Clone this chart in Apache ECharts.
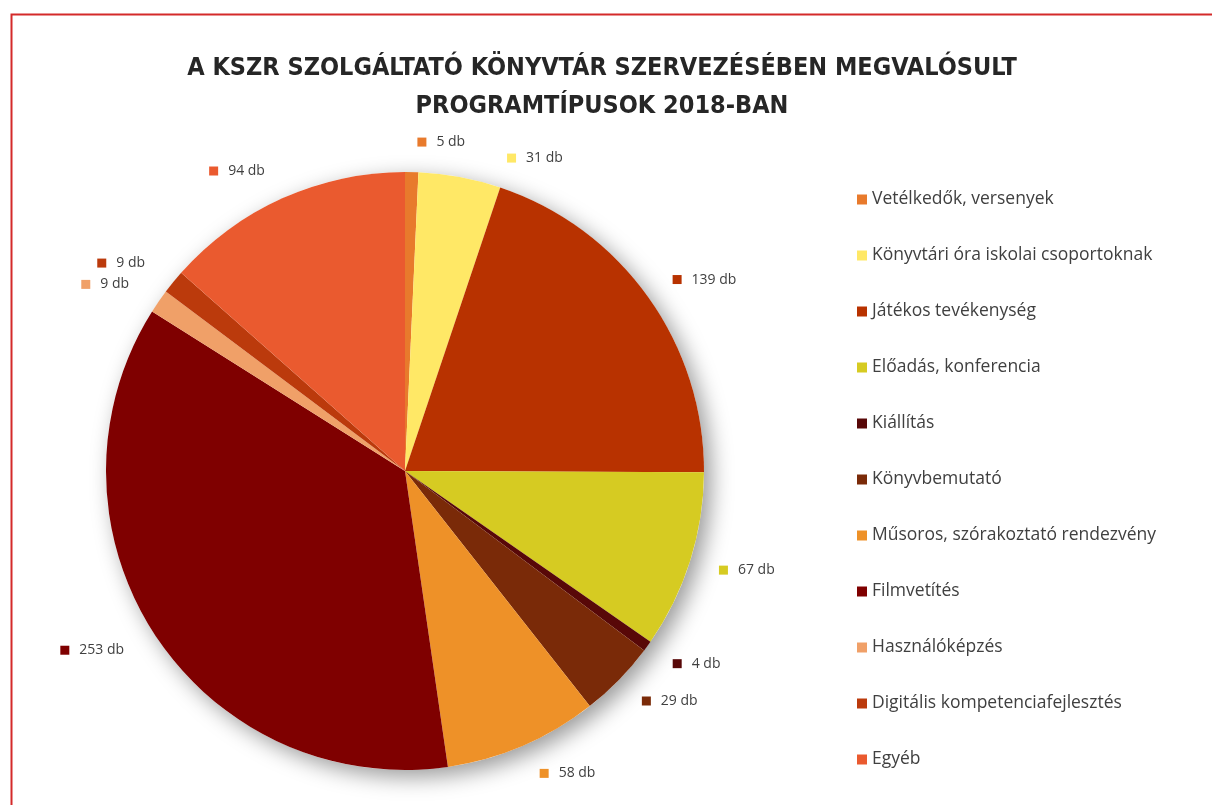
<!DOCTYPE html>
<html>
<head>
<meta charset="utf-8">
<script src="https://cdn.jsdelivr.net/npm/echarts@6/dist/echarts.min.js"></script>
<style>
  html, body { margin: 0; padding: 0; background: #fff; }
  #chart { width: 1212px; height: 805px; }
</style>
</head>
<body>
<div id="chart"></div>
<script>
// programtípusok és darabszámok
const categories = [
    'Vetélkedők, versenyek',
    'Könyvtári óra iskolai csoportoknak',
    'Játékos tevékenység',
    'Előadás, konferencia',
    'Kiállítás',
    'Könyvbemutató',
    'Műsoros, szórakoztató rendezvény',
    'Filmvetítés',
    'Használóképzés',
    'Digitális kompetenciafejlesztés',
    'Egyéb'
];
const counts = [5, 31, 139, 67, 4, 29, 58, 253, 9, 9, 94];
const colors = ['#e87a2c', '#ffe866', '#b83200', '#d6cb22', '#580808', '#7a2a08',
                '#ee9128', '#7f0000', '#f0a068', '#bb3a0c', '#ea5a2f'];

const total = counts.reduce((a, b) => a + b, 0);
const font = "'Open Sans', 'DejaVu Sans', sans-serif";

const pieData = categories.map((name, i) => ({
    name: name,
    value: counts[i],
    itemStyle: { color: colors[i] },
    label: {
        rich: {
            sq: { width: 9, height: 9, backgroundColor: colors[i] },
            t: { fontSize: 14, color: '#404040', fontFamily: font, padding: [0, 0, 0, 10] }
        }
    }
}));

const chart = echarts.init(document.getElementById('chart'));

const option = {
    backgroundColor: '#fff',
    title: {
        text: 'A KSZR SZOLGÁLTATÓ KÖNYVTÁR SZERVEZÉSÉBEN MEGVALÓSULT\nPROGRAMTÍPUSOK 2018-BAN',
        left: 597,
        top: 44,
        textAlign: 'center',
        textStyle: {
            fontFamily: "'DejaVu Sans Condensed', 'Liberation Sans Narrow', sans-serif",
            fontSize: 25,
            fontWeight: 'bold',
            color: '#262626',
            lineHeight: 38
        }
    },
    legend: {
        data: categories,
        orient: 'vertical',
        left: 852,
        top: 184,
        icon: 'rect',
        itemWidth: 10,
        itemHeight: 10,
        itemGap: 35,
        selectedMode: false,
        textStyle: {
            fontFamily: font,
            fontSize: 17.5,
            color: '#404040',
            lineHeight: 21
        }
    },
    graphic: [{
        // piros keret
        type: 'rect',
        left: 9,
        top: 12,
        shape: { width: 1400, height: 1000 },
        style: { fill: 'none', stroke: '#d42a2a', lineWidth: 2 },
        silent: true
    }],
    series: [
        {
            // árnyék a kör alatt
            type: 'pie',
            silent: true,
            radius: 299,
            center: [405, 471],
            label: { show: false },
            labelLine: { show: false },
            z: 1,
            itemStyle: {
                color: '#fff',
                shadowBlur: 22,
                shadowOffsetX: 7,
                shadowOffsetY: 7,
                shadowColor: 'rgba(0,0,0,0.4)'
            },
            data: [{ value: total, name: '' }]
        },
        {
            type: 'pie',
            radius: 299,
            center: [405, 471],
            startAngle: 90,
            clockwise: true,
            z: 2,
            avoidLabelOverlap: true,
            label: {
                show: true,
                position: 'outside',
                formatter: p => '{sq|}{t|' + p.value + ' db}'
            },
            labelLine: { show: false, length: 30, length2: 0 },
            emphasis: { disabled: true },
            data: pieData
        }
    ]
};

chart.setOption(option);
</script>
</body>
</html>
